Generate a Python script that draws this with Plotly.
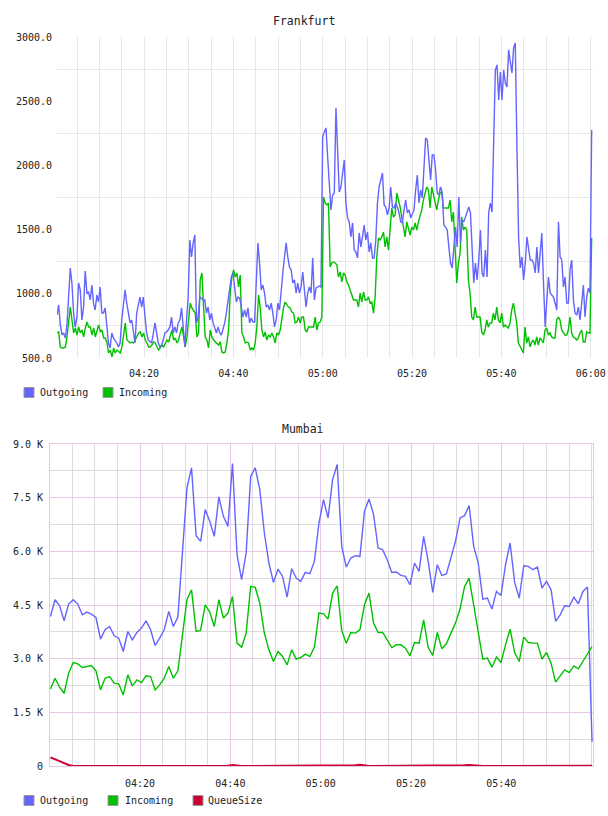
import pandas as pd
import plotly.graph_objects as go

DAY = "2024-01-01 "

# ---------------- Frankfurt ----------------
fra_out = [
    835, 913, 760, 680, 695, 655, 757, 1006, 1200, 1080, 850, 741, 820, 1084, 1030, 796, 897, 1178, 1006, 1014, 952, 1068,
    928, 874, 991, 936, 1053, 850, 850, 890, 773, 617, 578, 695, 656, 640, 617, 586, 617,
    796, 930, 1030, 928, 850, 773, 796, 718, 617, 850, 928, 975, 897, 975, 819, 695, 640, 625, 617, 690,
    773, 695, 617, 586, 601, 640, 695, 703, 718, 742, 819, 695, 742, 695, 773, 796, 890, 742, 586, 796,
    975, 1419, 1287, 1396, 1458,
    773, 819, 975, 967, 952, 952, 850, 897, 796, 850, 773, 734, 695, 742, 695, 679, 718, 773, 850, 952,
    1053, 1131, 1162, 1030, 936, 975, 967, 897, 819, 874, 819, 890, 773, 811, 780, 780, 1108, 1396, 1240, 1030,
    1068, 1006, 897, 913, 874, 928, 850, 742, 796, 928, 874, 1053, 1162, 1287, 1396, 1287, 1209, 1186, 1084, 1108,
    1006, 1084, 1006, 1053, 1170, 1030, 897, 1006, 1053, 1006, 1279, 952, 1045, 1053, 1060, 1053,
    2222, 2261, 2292, 2066, 1809, 1653, 1770, 1785, 2447, 2175, 1793, 1832, 1925, 2042, 1707, 1591, 1560, 1443, 1552, 1341,
    1326, 1279, 1474, 1365, 1443, 1536, 1419, 1481, 1326, 1396, 1279, 1279, 1419, 1707, 1832, 1902, 1941, 1692, 1676, 1614,
    1668, 1832, 1676, 1668, 1707, 1676, 1630, 1560, 1552, 1653, 1731, 1630, 1653, 1591, 1630, 1653, 1809, 1925, 1707, 1809,
    1746, 1988, 2214, 2198, 2066, 1887, 2082, 2082, 1964, 1785, 1770, 1832, 1785, 1536, 1520, 1497, 1365, 1240, 1201, 1365,
    1520, 1365, 1754,
    1396, 1575, 1560, 1598, 1637, 1676, 1630, 1365, 1084, 1240, 1108, 1263, 1497, 1162, 1131, 1341, 1131, 1637, 1707, 1637,
    2276, 2743, 2783, 2510, 2728, 2510, 2743, 2642, 2611, 2899, 2806, 2720, 2915, 2954, 2144, 1443, 1201, 1287, 1108, 1240,
    1443, 1341, 1263, 1263, 1240, 1162, 1365, 1162, 1341, 1474, 1084, 741, 952, 1131, 1006, 991, 975, 928, 874, 1560,
    1287, 1263, 1053, 1131, 928, 928, 1186, 1263, 952, 850, 835, 897, 796, 928, 1068, 819, 975, 1045, 1006, 2276,
]
fra_in = [
    695, 703, 586, 578, 578, 586, 664, 780, 897, 796, 695, 734, 679, 742, 695, 718, 664, 734, 780, 742,
    742, 679, 734, 664, 718, 757, 703, 718, 656, 656, 617, 539, 562, 508, 578, 539, 562, 547, 539, 586,
    664, 773, 640, 625, 617, 625, 617, 640, 664, 695, 703, 664, 695, 640, 617, 586, 586, 601, 625, 617,
    586, 562, 578, 601, 586, 617, 640, 625, 664, 718, 640, 656, 617, 640, 695, 742, 664, 586, 664, 796,
    928, 890, 874, 850,
    664, 695, 1108, 1162, 897, 664, 640, 578, 718, 664, 640, 625, 617, 601, 625, 547, 539, 547, 617, 718,
    1006, 1131, 1186, 1131, 1162, 1053, 1147, 695, 664, 617, 625, 617, 562, 578, 562, 617, 742, 991, 897, 718,
    664, 703, 640, 679, 664, 695, 664, 617, 695, 679, 718, 819, 890, 936, 913, 897, 890, 858, 850, 773,
    780, 819, 773, 819, 819, 718, 703, 742, 742, 742, 742, 819, 718, 773, 780, 819,
    1754, 1707, 1692, 1707, 1209, 1240, 1248, 1240, 1225, 1131, 1170, 1092, 1162, 1147, 1092, 1068, 1030, 991, 952, 952,
    952, 897, 1006, 936, 1014, 952, 952, 975, 928, 936, 850, 975, 1287, 1435, 1419, 1443, 1481, 1365, 1443, 1341,
    1497, 1668, 1598, 1614, 1785, 1731, 1676, 1598, 1520, 1443, 1560, 1497, 1458, 1520, 1497, 1552, 1497, 1560, 1598, 1653,
    1731, 1785, 1832, 1809, 1668, 1832, 1770, 1707, 1653, 1731, 1785, 1793, 1668, 1668, 1668, 1668, 1731, 1560, 1637, 1365,
    1084, 1240, 1318,
    1598, 1497, 1520, 1497, 1108, 1006, 819, 796, 897, 819, 819, 819, 703, 679, 718, 796, 741, 773, 773, 850,
    796, 897, 796, 773, 850, 741, 757, 741, 734, 773, 874, 928, 850, 773, 617, 586, 562, 539, 741, 617,
    664, 586, 625, 640, 601, 664, 601, 656, 640, 617, 718, 734, 679, 695, 664, 656, 656, 796, 819, 796,
    718, 695, 679, 679, 718, 819, 695, 664, 656, 640, 656, 695, 718, 625, 625, 703, 695, 695, 1435,
]
fra_start, fra_end = "04:00:31", "06:00:13"
fra_range = ["04:00:31", "06:00:31"]
fra_yticks = [500, 1000, 1500, 2000, 2500, 3000]
fra_ygrid = [750, 1250, 1750, 2250, 2750]
fra_xticks = ["04:20", "04:40", "05:00", "05:20", "05:40", "06:00"]

# ---------------- Mumbai ----------------
mum_out = [
    4179, 4646, 4487, 4060, 4526, 4646, 4526, 4227, 4302, 4246, 4150, 3546, 3807, 3900, 3639, 3574, 3200, 3760, 3527, 3732,
    3853, 4059, 3807, 3368, 3574, 3807, 4320, 3900, 4163, 6000, 7772, 8332, 6438, 6279, 7166, 6839, 6418, 7521, 6979, 6698,
    8453, 5906, 5206, 5953, 8098, 8332, 7725, 6513, 5673, 5131, 5505, 5299, 4722, 5514, 5253, 5159, 5411, 5374, 5719, 6792,
    7445, 6933, 8005, 8425, 6138, 5561, 5813, 5878, 5859, 7119, 7465, 7025, 6093, 6046, 5766, 5411, 5421, 5327, 5299, 5066,
    5673, 5439, 6418, 5719, 4851, 5626, 5327, 5366, 5859, 6279, 6933, 6998, 7277, 6138, 5673, 4666, 4694, 4386, 4879, 4767,
    5626, 6233, 5131, 4694, 5598, 5579, 5486, 5561, 4974, 5159, 4926, 4040, 4227, 4478, 4459, 4722, 4535, 4879, 5001, 680,
]
mum_in = [
    2155, 2454, 2202, 2034, 2594, 2892, 2855, 2752, 2780, 2808, 2659, 2127, 2454, 2500, 2315, 2295, 1987, 2547, 2239, 2407,
    2332, 2519, 2500, 2127, 2267, 2454, 2780, 2454, 2659, 3700, 4646, 4926, 3760, 3788, 4507, 4300, 3900, 4646, 4134, 4274,
    4739, 3434, 3322, 3714, 5019, 4991, 4554, 3714, 3247, 2920, 3200, 3060, 2827, 3247, 2986, 3032, 3126, 3060, 3322, 4274,
    4254, 4106, 4834, 5038, 3788, 3434, 3732, 3714, 3807, 4507, 4834, 3994, 3732, 3732, 3527, 3312, 3387, 3387, 3294, 3079,
    3452, 3434, 4087, 3312, 3088, 3732, 3275, 3415, 3714, 3994, 4386, 5019, 5253, 4478, 3807, 2986, 3014, 2762, 3042, 2892,
    3387, 3826, 3172, 2920, 3602, 3452, 3434, 3434, 2986, 3172, 2874, 2343, 2519, 2687, 2612, 2799, 2715, 2920, 3107, 3340,
]
mum_queue = [
    243, 190, 130, 75, 30, 0, 0, 0, 0, 0, 0, 0, 0, 0, 0, 0, 0, 0, 0, 0,
    0, 0, 0, 0, 0, 0, 0, 0, 0, 0, 0, 0, 0, 0, 0, 0, 0, 0, 0, 10,
    30, 10, 0, 0, 0, 0, 0, 0, 0, 0, 0, 0, 0, 0, 0, 0, 0, 0, 0, 0,
    0, 0, 0, 0, 0, 0, 0, 20, 35, 15, 0, 0, 0, 0, 0, 0, 0, 0, 0, 0,
    0, 0, 0, 0, 10, 0, 0, 0, 15, 0, 10, 20, 30, 15, 0, 0, 0, 0, 0, 0,
    0, 0, 0, 0, 0, 0, 0, 0, 0, 0, 0, 0, 0, 0, 0, 0, 0, 0, 0, 10,
]
mum_start, mum_end = "04:00:10", "06:00:05"
mum_range = ["04:00:04", "06:00:18"]
mum_yticks = [0, 1500, 3000, 4500, 6000, 7500, 9000]
mum_ylabels = ["0", "1.5 K", "3.0 K", "4.5 K", "6.0 K", "7.5 K", "9.0 K"]
mum_xticks = ["04:20", "04:40", "05:00", "05:20", "05:40"]

series_names = ["Outgoing", "Incoming", "QueueSize"]
C_OUT, C_IN, C_Q = "#6464ff", "#00c000", "#cc0033"

FONT = "DejaVu Sans Mono"
W, H = 608, 816


def ts(hms):
    return pd.Timestamp(DAY + hms)


def px_x(p):
    return p / W


def px_y(p):
    return 1 - p / H


t_fo = pd.date_range(ts(fra_start), ts(fra_end), periods=len(fra_out))
t_fi = pd.date_range(ts(fra_start), ts(fra_end), periods=len(fra_in))
t_m = pd.date_range(ts(mum_start), ts(mum_end), periods=len(mum_out))

fig = go.Figure()
fig.add_trace(go.Scatter(x=t_fi, y=fra_in, mode="lines", line=dict(color=C_IN, width=1.4),
                         name=series_names[1], xaxis="x", yaxis="y", showlegend=False))
fig.add_trace(go.Scatter(x=t_fo, y=fra_out, mode="lines", line=dict(color=C_OUT, width=1.4),
                         name=series_names[0], xaxis="x", yaxis="y", showlegend=False))
fig.add_trace(go.Scatter(x=t_m, y=mum_out, mode="lines", line=dict(color=C_OUT, width=1.4),
                         name=series_names[0], xaxis="x2", yaxis="y2", showlegend=False))
fig.add_trace(go.Scatter(x=t_m, y=mum_in, mode="lines", line=dict(color=C_IN, width=1.4),
                         name=series_names[1], xaxis="x2", yaxis="y2", showlegend=False))
fig.add_trace(go.Scatter(x=t_m, y=mum_queue, mode="lines", line=dict(color=C_Q, width=2),
                         name=series_names[2], xaxis="x2", yaxis="y2", showlegend=False))

tickfont = dict(family=FONT, size=10, color="#222")
GRID = "#e6e6e6"
PINK = "#e4c8e4"
MGRAY = "#dcdcdc"
FIVE_MIN = 5 * 60 * 1000

fig.update_layout(
    width=W, height=H, autosize=False,
    margin=dict(l=0, r=0, t=0, b=0, pad=0, autoexpand=False),
    paper_bgcolor="white", plot_bgcolor="white",
    xaxis=dict(
        domain=[px_x(57), px_x(593)], automargin=False,
        type="date", range=[ts(r) for r in fra_range],
        tickmode="array", tickvals=[ts(v) for v in fra_xticks], tickformat="%H:%M",
        tickfont=tickfont, ticks="", showgrid=True, gridcolor=GRID, gridwidth=1,
        minor=dict(tick0=ts("04:00"), dtick=FIVE_MIN, showgrid=True, gridcolor=GRID, gridwidth=1),
        showline=False, zeroline=False, anchor="y", ticklabelstandoff=8,
    ),
    yaxis=dict(
        domain=[px_y(358), px_y(37)], automargin=False,
        range=[500, 3000],
        tickmode="array", tickvals=fra_yticks, tickformat=".1f",
        tickfont=tickfont, ticks="", showgrid=False,
        minor=dict(tickmode="array", tickvals=fra_ygrid, showgrid=True, gridcolor=GRID, gridwidth=1),
        showline=False, zeroline=False, anchor="x", ticklabelstandoff=4,
    ),
    xaxis2=dict(
        domain=[px_x(50), px_x(593)], automargin=False,
        type="date", range=[ts(r) for r in mum_range],
        tickmode="array", tickvals=[ts(v) for v in mum_xticks], tickformat="%H:%M",
        tickfont=tickfont, ticks="", showgrid=True, gridcolor=PINK, gridwidth=1,
        minor=dict(tick0=ts("04:00"), dtick=FIVE_MIN, showgrid=True, gridcolor=MGRAY, gridwidth=1),
        showline=True, mirror=True, linecolor=PINK, linewidth=1,
        zeroline=False, anchor="y2", ticklabelstandoff=8,
    ),
    yaxis2=dict(
        domain=[px_y(766), px_y(444)], automargin=False,
        range=[0, 9000],
        tickmode="array", tickvals=mum_yticks, ticktext=mum_ylabels,
        tickfont=tickfont, ticks="", showgrid=True, gridcolor=PINK, gridwidth=1,
        minor=dict(tick0=750, dtick=1500, showgrid=True, gridcolor=MGRAY, gridwidth=1),
        showline=True, mirror=True, linecolor=PINK, linewidth=1,
        zeroline=False, anchor="x2", ticklabelstandoff=4,
    ),
)

# titles
fig.add_annotation(text="Frankfurt", x=px_x(304), y=px_y(20.5), xref="paper", yref="paper",
                   showarrow=False, xanchor="center", yanchor="middle",
                   font=dict(family=FONT, size=11.5, color="#222"))
fig.add_annotation(text="Mumbai", x=px_x(303), y=px_y(429), xref="paper", yref="paper",
                   showarrow=False, xanchor="center", yanchor="middle",
                   font=dict(family=FONT, size=11.5, color="#222"))

# legends (drawn as swatches + text)
legend_rows = [
    (392.5, [(24, 39, series_names[0], C_OUT), (103, 118, series_names[1], C_IN)]),
    (800.5, [(24, 39, series_names[0], C_OUT), (108, 124, series_names[1], C_IN),
             (193, 207, series_names[2], C_Q)]),
]
for yc, items in legend_rows:
    for sx, tx, label, col in items:
        fig.add_shape(type="rect", xref="paper", yref="paper",
                      x0=px_x(sx), x1=px_x(sx + 10), y0=px_y(yc + 5), y1=px_y(yc - 5),
                      fillcolor=col, line=dict(color="#999999", width=1))
        fig.add_annotation(text=label, x=px_x(tx - 1), y=px_y(yc), xref="paper", yref="paper",
                           showarrow=False, xanchor="left", yanchor="middle",
                           font=dict(family=FONT, size=10, color="#222"))

fig.write_html("out.html", config={"responsive": False})
